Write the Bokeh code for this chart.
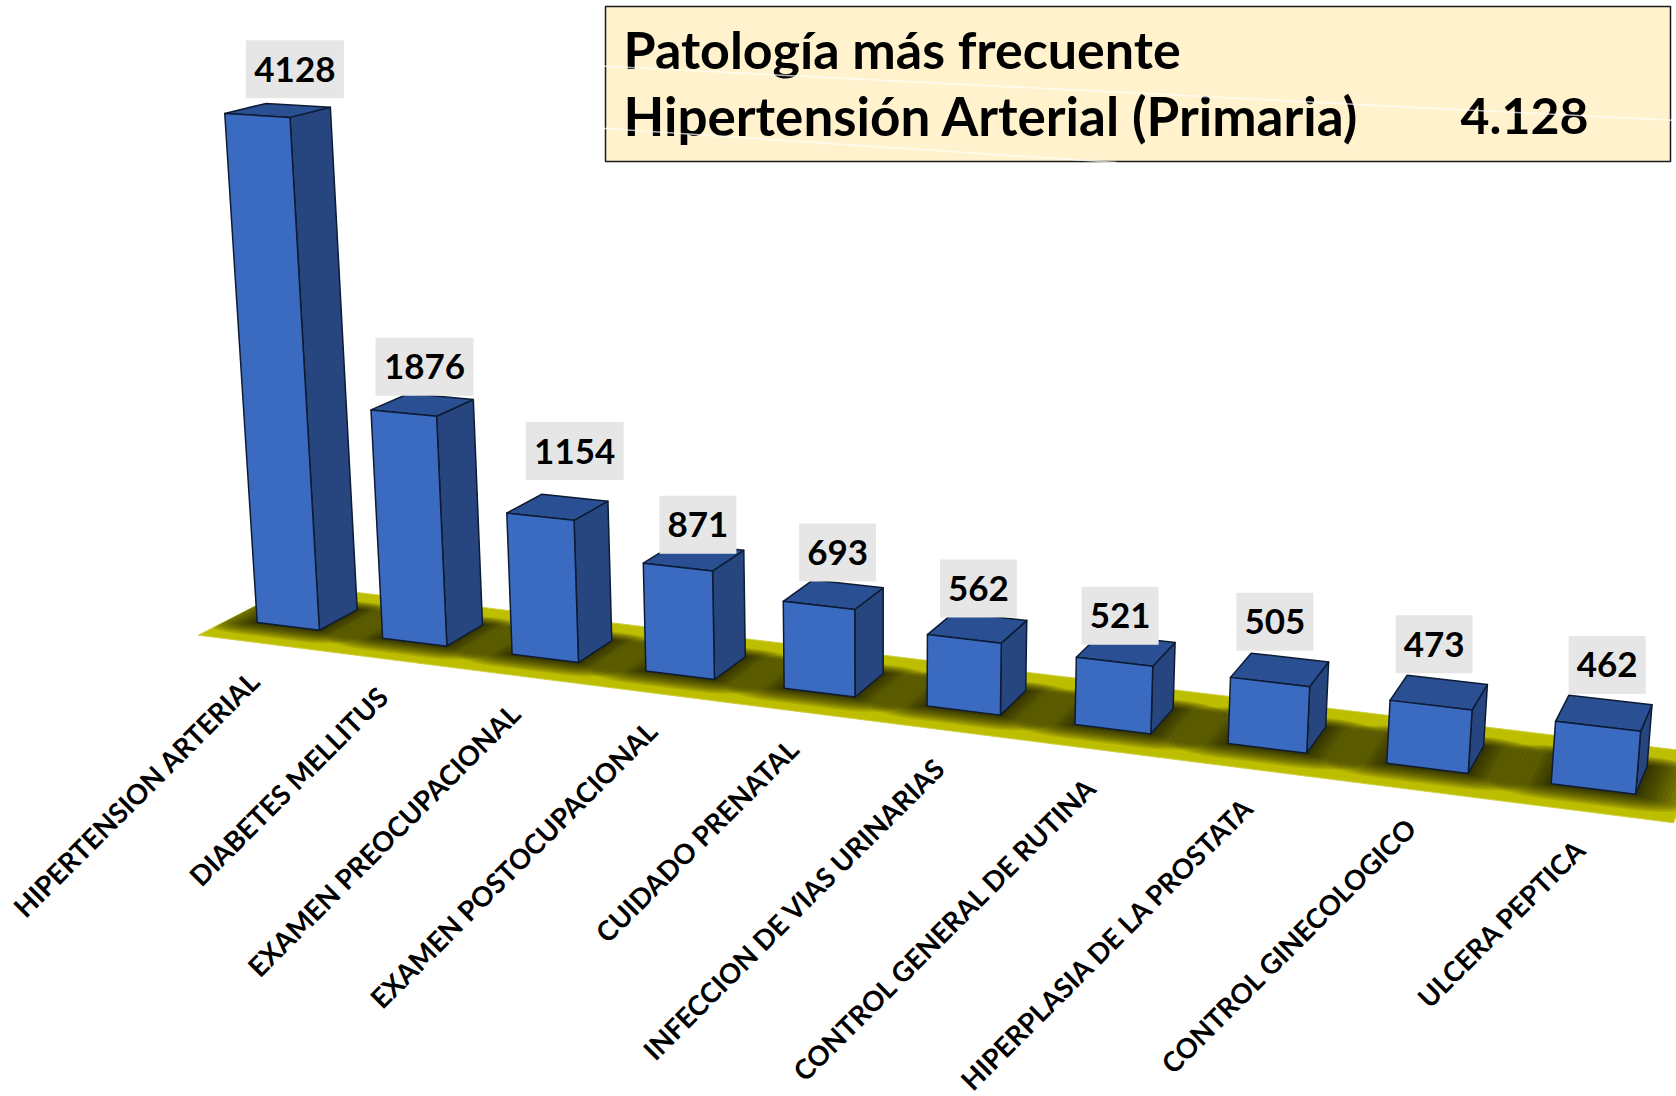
from bokeh.plotting import figure
from bokeh.models import Range1d
from bokeh.core.properties import value
from bokeh.embed import file_html
from bokeh.resources import INLINE
import numpy as np

categories = ["HIPERTENSION ARTERIAL", "DIABETES MELLITUS", "EXAMEN PREOCUPACIONAL",
              "EXAMEN POSTOCUPACIONAL", "CUIDADO PRENATAL", "INFECCION DE VIAS URINARIAS",
              "CONTROL GENERAL DE RUTINA", "HIPERPLASIA DE LA PROSTATA",
              "CONTROL GINECOLOGICO", "ULCERA PEPTICA"]
values = [4128, 1876, 1154, 871, 693, 562, 521, 505, 473, 462]
value_labels = ["4128", "1876", "1154", "871", "693", "562", "521", "505", "473", "462"]
banner_title = "Patología más frecuente"
banner_name = "Hipertensión Arterial (Primaria)"
banner_value = "4.128"

# --- 3D camera: vanishing points + perspective weights -------------------
VX = (-7607.0, -358.0)
VY = (880.0, 10400.0)
VZ = (2100.0, -342.0)
ORIGIN = (256.7, 622.0)
WX, WY, WZ = -0.0157, -1.1987e-5, 0.0215
BAR_W, BAR_D = 0.5, 1.0
FLOOR_X = (-0.223, 9.77)
FLOOR_Z = (-0.77, 1.71)


def proj(X, Y, Z):
    a, b, c = WX * X, WY * Y, WZ * Z
    w = 1 + a + b + c
    return ((a * VX[0] + b * VY[0] + c * VZ[0] + ORIGIN[0]) / w,
            (a * VX[1] + b * VY[1] + c * VZ[1] + ORIGIN[1]) / w)


def poly(pts):
    p_ = [proj(*q) for q in pts]
    return [q[0] for q in p_], [q[1] for q in p_]


W, H = 1676, 1096
p = figure(width=W, height=H, output_backend="svg", toolbar_location=None,
           x_range=Range1d(0, W), y_range=Range1d(H, 0),
           x_axis_location=None, y_axis_location=None, min_border=0,
           outline_line_color=None, background_fill_color="white")
p.grid.visible = False

# floor
fx, fy = poly([(FLOOR_X[0], 0, FLOOR_Z[0]), (FLOOR_X[1], 0, FLOOR_Z[0]),
               (FLOOR_X[1], 0, FLOOR_Z[1]), (FLOOR_X[0], 0, FLOOR_Z[1])])
p.patch(fx, fy, fill_color="#BEBE00", line_color="#CFCF40", line_width=1)


# soft shadows: nested rounded footprints in floor coordinates
def rounded(x0, x1, z0, z1, r):
    pts = []
    for cx, cz, a0 in [(x1 - r, z1 - r, 0), (x0 + r, z1 - r, 90),
                       (x0 + r, z0 + r, 180), (x1 - r, z0 + r, 270)]:
        for a in np.radians(np.linspace(a0, a0 + 90, 7)):
            pts.append((cx + r * np.cos(a), cz + r * np.sin(a)))
    return pts


SHADOW_STEPS = 0.02 + 0.33 * np.linspace(1, 0, 14) ** 1.2
for i in range(len(values)):
    for e in SHADOW_STEPS:
        pts = rounded(i - e, i + BAR_W + e, -e * 1.5, BAR_D + e, e)
        pts = [(min(max(a, FLOOR_X[0]), FLOOR_X[1]), 0, min(max(b, FLOOR_Z[0]), FLOOR_Z[1])) for a, b in pts]
        sx, sy = poly(pts)
        p.patch(sx, sy, fill_color="#141400", fill_alpha=0.1, line_color=None)

# bars
EDGE = "#0D1B33"
for i, v in enumerate(values):
    x0, x1 = i, i + BAR_W
    side = poly([(x1, 0, 0), (x1, 0, BAR_D), (x1, v, BAR_D), (x1, v, 0)])
    top = poly([(x0, v, 0), (x1, v, 0), (x1, v, BAR_D), (x0, v, BAR_D)])
    front = poly([(x0, 0, 0), (x1, 0, 0), (x1, v, 0), (x0, v, 0)])
    p.patch(*side, fill_color="#27467F", line_color=EDGE, line_width=1.5, line_join="round")
    p.patch(*top, fill_color="#2B4F93", line_color=EDGE, line_width=1.5, line_join="round")
    p.patch(*front, fill_color="#3B6BC1", line_color=EDGE, line_width=1.5, line_join="round")

# category labels
for i, c in enumerate(categories):
    lx, ly = proj(i + 0.25, 0, FLOOR_Z[0])
    p.text([lx - 3], [ly + 33], text=[c], angle=45, angle_units="deg",
           text_align="right", text_baseline="middle",
           text_font=value("Lato"), text_font_style="bold",
           text_font_size="27.5px", text_color="black")

# value labels (manually nudged in the reference)
label_nudge = [(17, -41), (2, -38), (17, -56), (4, -32), (4, -42),
               (1, -39), (-6, -34), (-5, -48), (-5, -48), (3, -48)]
for i, (v, t) in enumerate(zip(values, value_labels)):
    cx, cy = proj(i + 0.25, v, 0.5)
    cx += label_nudge[i][0]
    cy += label_nudge[i][1]
    bw = 98 if len(t) == 4 else 77
    p.rect([cx], [cy], width=bw, height=58, fill_color="#E6E6E6", line_color=None)
    p.text([cx], [cy], text=[t], text_align="center", text_baseline="middle",
           text_font=value("Lato"), text_font_style="bold",
           text_font_size="35px", text_color="black")

# banner
BL, BR_, BT, BB = 605, 1670, 6, 161
p.quad(left=[BL], right=[BR_], top=[BT], bottom=[BB],
       fill_color="#FFF2CC", line_color="#1A1A1A", line_width=1.5)
p.text([623], [48], text=[banner_title], text_align="left", text_baseline="alphabetic",
       text_font=value("Lato"), text_font_style="bold", text_font_size="52px", text_color="black")
p.text([623], [115], text=[banner_name], text_align="left", text_baseline="alphabetic",
       text_font=value("Lato"), text_font_style="bold", text_font_size="53px", text_color="black")
p.text([1460], [115], text=[banner_value], text_align="left", text_baseline="alphabetic",
       text_font=value("Lato"), text_font_style="bold", text_font_size="50px", text_color="black")
# faint light streaks crossing the banner
p.line([590, 1676], [65, 120], line_color="white", line_width=1.5, line_alpha=0.7)
p.line([590, 1116], [127, 162], line_color="white", line_width=1.5, line_alpha=0.7)

open("out.html", "w").write(file_html(p, INLINE))
